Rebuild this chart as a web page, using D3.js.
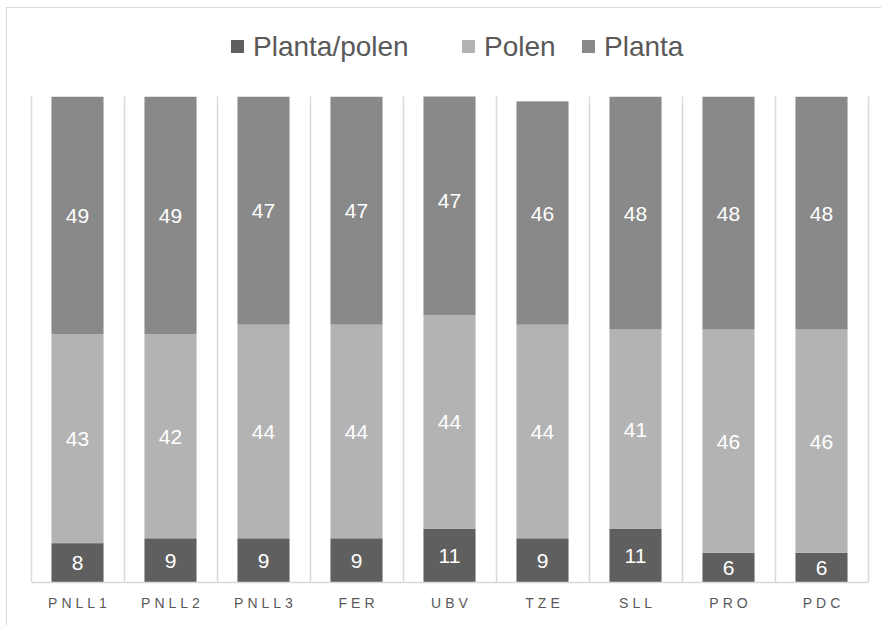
<!DOCTYPE html>
<html>
<head>
<meta charset="utf-8">
<script src="https://cdn.jsdelivr.net/npm/d3@7"></script>
<style>
  body { margin: 0; background: #fff; }
  svg { display: block; font-family: "Liberation Sans", Arial, sans-serif; }
</style>
</head>
<body>
<svg id="chart"></svg>
<script>
// data
const sites = ["PNLL1", "PNLL2", "PNLL3", "FER", "UBV", "TZE", "SLL", "PRO", "PDC"];
const plantaPolen = [8, 9, 9, 9, 11, 9, 11, 6, 6];
const polen = [43, 42, 44, 44, 44, 44, 41, 46, 46];
const planta = [49, 49, 47, 47, 47, 46, 48, 48, 48];
const seriesNames = ["Planta/polen", "Polen", "Planta"];
const seriesColors = ["#5f5f5f", "#b3b3b3", "#898989"];

// sizes
const width = 881;
const height = 625;
const plotLeft = 31;
const plotRight = 868;
const plotTop = 96.5;
const plotBottom = 582;
const gridColor = "#d9d9d9";
const textColor = "#595959";

const svg = d3.select("#chart").attr("width", width).attr("height", height);

// outer frame (runs off the right and bottom edge)
svg.append("rect")
  .attr("x", 6.5).attr("y", 7.5)
  .attr("width", 900).attr("height", 700)
  .attr("fill", "none").attr("stroke", gridColor);

const table = sites.map((s, i) => ({
  site: s,
  "Planta/polen": plantaPolen[i],
  "Polen": polen[i],
  "Planta": planta[i],
}));
const stacked = d3.stack().keys(seriesNames)(table);

const xScale = d3.scaleBand()
  .domain(sites)
  .range([plotLeft, plotRight])
  .paddingInner(0.44)
  .paddingOuter(0.22);
const yScale = d3.scaleLinear().domain([0, 100]).range([plotBottom, plotTop]);
const step = xScale.step();

// vertical gridlines between categories
const bounds = d3.range(sites.length + 1).map((i) => plotLeft + i * step);
svg.append("g")
  .selectAll("line")
  .data(bounds)
  .enter()
  .append("line")
  .attr("x1", (d) => Math.round(d) + 0.5)
  .attr("x2", (d) => Math.round(d) + 0.5)
  .attr("y1", plotTop)
  .attr("y2", plotBottom)
  .attr("stroke", gridColor)
  .attr("stroke-width", 1.5);

// clip bars to the plot area (UBV goes past 100)
svg.append("clipPath").attr("id", "plotClip")
  .append("rect")
  .attr("x", plotLeft).attr("y", plotTop)
  .attr("width", plotRight - plotLeft).attr("height", plotBottom - plotTop);

const bars = svg.append("g").attr("clip-path", "url(#plotClip)");
bars.selectAll("g")
  .data(stacked)
  .enter()
  .append("g")
  .attr("fill", (d, i) => seriesColors[i])
  .selectAll("rect")
  .data((d) => d)
  .enter()
  .append("rect")
  .attr("x", (d) => xScale(d.data.site))
  .attr("width", xScale.bandwidth())
  .attr("y", (d) => yScale(d[1]))
  .attr("height", (d) => yScale(d[0]) - yScale(d[1]));

// x axis
const xAxis = d3.axisBottom(xScale).tickSize(0).tickPadding(16);
const gx = svg.append("g")
  .attr("transform", "translate(0," + plotBottom + ")")
  .call(xAxis);
gx.select(".domain").attr("stroke", gridColor).attr("stroke-width", 1.5);
gx.selectAll("text")
  .attr("fill", textColor)
  .style("font-size", "14px")
  .style("letter-spacing", "4px")
  .attr("dx", "2px");

// data labels, centred on each full segment
const labels = svg.append("g");
stacked.forEach((s) => {
  labels.selectAll(null)
    .data(s)
    .enter()
    .append("text")
    .attr("x", (d) => xScale(d.data.site) + xScale.bandwidth() / 2)
    .attr("y", (d) => (yScale(d[0]) + yScale(d[1])) / 2)
    .attr("dy", "0.36em")
    .attr("text-anchor", "middle")
    .attr("fill", "#ffffff")
    .style("font-size", "21px")
    .text((d) => d[1] - d[0]);
});

// legend
const legendX = [231, 462, 582];
const legend = svg.append("g");
seriesNames.forEach((name, i) => {
  legend.append("rect")
    .attr("x", legendX[i]).attr("y", 40)
    .attr("width", 13).attr("height", 13)
    .attr("fill", seriesColors[i]);
  legend.append("text")
    .attr("x", legendX[i] + 22).attr("y", 56)
    .attr("fill", textColor)
    .style("font-size", "28px")
    .text(name);
});
</script>
</body>
</html>
